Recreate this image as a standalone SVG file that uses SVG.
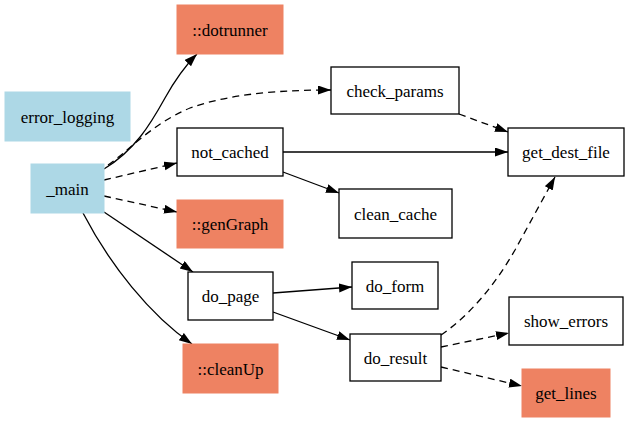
<svg xmlns="http://www.w3.org/2000/svg" width="630" height="423" viewBox="0 0 630 423">
<style>
.box{fill:#fff;stroke:#000;stroke-width:1.3}
.ext{fill:#ee8262;stroke:#ee8262}
.mod{fill:#add8e6;stroke:#add8e6}
.e{fill:none;stroke:#000;stroke-width:1.3}
.d{stroke-dasharray:7,5}
text{font-family:"Liberation Serif","DejaVu Serif","Times New Roman",serif;font-size:17px;text-anchor:middle;fill:#000}
</style>
<defs>
<marker id="ah" markerUnits="userSpaceOnUse" markerWidth="14" markerHeight="12" refX="13" refY="4.5" orient="auto">
<path d="M0,0 L13,4.5 L0,9 z" fill="#000" stroke="none"/>
</marker>
</defs>
<g id="edges">
<path class="e" marker-end="url(#ah)" d="M104,169 C135,150 150,125 165,98 C175,80 185,66 197,54"/>
<path class="e d" marker-end="url(#ah)" d="M108,165 C130,150 150,125 190,108 C235,92 290,90 331,90"/>
<path class="e d" marker-end="url(#ah)" d="M104,180 L177,163"/>
<path class="e d" marker-end="url(#ah)" d="M104,196 L177,212"/>
<path class="e" marker-end="url(#ah)" d="M104,212 L193,272"/>
<path class="e" marker-end="url(#ah)" d="M83,213 C110,265 150,315 192,344"/>
<path class="e" marker-end="url(#ah)" d="M283,152 L508,152"/>
<path class="e" marker-end="url(#ah)" d="M283,172 L339,193"/>
<path class="e d" marker-end="url(#ah)" d="M459,114 L508,132"/>
<path class="e" marker-end="url(#ah)" d="M273,293 L352,287"/>
<path class="e" marker-end="url(#ah)" d="M273,312 L350,340"/>
<path class="e d" marker-end="url(#ah)" d="M441,335 C470,315 495,285 515,250 L555,177"/>
<path class="e d" marker-end="url(#ah)" d="M441,347 L509,333"/>
<path class="e d" marker-end="url(#ah)" d="M441,367 L522,386"/>
</g>
<g id="n_dotrunner"><rect class="ext" x="177" y="5" width="106" height="49"/><text x="230" y="36">::dotrunner</text></g>
<g id="n_error_logging"><rect class="mod" x="5" y="92" width="125" height="49"/><text x="67.5" y="123">error_logging</text></g>
<g id="n_main"><rect class="mod" x="31" y="164" width="73" height="49"/><text x="67.5" y="195">_main</text></g>
<g id="n_not_cached"><rect class="box" x="177" y="128" width="106" height="48"/><text x="230" y="158">not_cached</text></g>
<g id="n_genGraph"><rect class="ext" x="177" y="200" width="106" height="48"/><text x="230" y="230">::genGraph</text></g>
<g id="n_do_page"><rect class="box" x="188" y="272" width="85" height="48"/><text x="230.5" y="302">do_page</text></g>
<g id="n_cleanUp"><rect class="ext" x="183" y="344" width="95" height="49"/><text x="230.5" y="375">::cleanUp</text></g>
<g id="n_check_params"><rect class="box" x="331" y="67" width="128" height="47"/><text x="395" y="96.5">check_params</text></g>
<g id="n_get_dest_file"><rect class="box" x="508" y="128" width="116" height="48"/><text x="566" y="158">get_dest_file</text></g>
<g id="n_clean_cache"><rect class="box" x="339" y="189" width="113" height="49"/><text x="395.5" y="220">clean_cache</text></g>
<g id="n_do_form"><rect class="box" x="352" y="262" width="86" height="47"/><text x="395" y="292">do_form</text></g>
<g id="n_do_result"><rect class="box" x="350" y="334" width="91" height="47"/><text x="395.5" y="364">do_result</text></g>
<g id="n_show_errors"><rect class="box" x="509" y="297" width="114" height="48"/><text x="566" y="327">show_errors</text></g>
<g id="n_get_lines"><rect class="ext" x="522" y="369" width="88" height="48"/><text x="566" y="399">get_lines</text></g>
</svg>
